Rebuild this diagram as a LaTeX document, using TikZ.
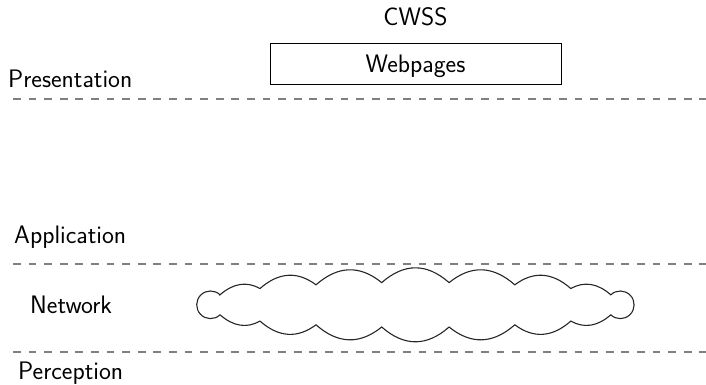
\documentclass[tikz,border=0pt]{standalone}
\begin{document}
\begin{tikzpicture}[x=1pt,y=-1pt,
  every node/.style={font=\sffamily\fontsize{25.3}{30}\selectfont, inner sep=0pt},
  layerlabel/.style={anchor=base west},
  separator/.style={draw=black!50, line width=1.4pt, dash pattern=on 7.8pt off 7.8pt},
  pagebox/.style={draw, line width=0.9pt, minimum width=291pt, minimum height=41pt},
  cloudline/.style={draw=black!85, line width=1.1pt, line join=miter}]
  \useasboundingbox (0,0) rectangle (706,384);

  % system title and its web front end
  \node[anchor=base] (title) at (415.5,25) {CWSS};
  \node[pagebox] (web) at (415.5,63.5) {};
  \node[anchor=base] (weblabel) at (415.5,72) {Webpages};

  % layer names
  \node[layerlabel] (pres) at (8,87) {Presentation};
  \node[layerlabel] (app) at (14,243) {Application};
  \node[layerlabel] (net) at (30,313) {Network};
  \node[layerlabel] (perc) at (18,379) {Perception};

  % layer boundaries
  \coordinate (s1a) at (13,99);  \coordinate (s1b) at (706,99);
  \coordinate (s2a) at (13,264); \coordinate (s2b) at (706,264);
  \coordinate (s3a) at (13,352); \coordinate (s3b) at (706,352);
  \draw[separator] (s1a) -- (s1b);
  \draw[separator] (s2a) -- (s2b);
  \draw[separator] (s3a) -- (s3b);

  % network layer: a long cloud, puffs growing towards the middle
  \begin{scope}[shift={(415.4,304.8)}]
    \draw[cloudline]
      (-195.4,-10)
      .. controls (-182.07,-21.63) and (-168.73,-23.73) .. (-155.4,-16.3)
      .. controls (-136.73,-32.67) and (-118.07,-33.9) .. (-99.4,-20)
      .. controls (-77.5,-39.27) and (-55.6,-40) .. (-33.7,-22.2)
      .. controls (-11.23,-41.93) and (11.23,-41.93) .. (33.7,-22.2)
      .. controls (55.6,-40) and (77.5,-39.27) .. (99.4,-20)
      .. controls (118.07,-33.9) and (136.73,-32.67) .. (155.4,-16.3)
      .. controls (168.73,-23.73) and (182.07,-21.63) .. (195.4,-10)
      arc[start angle=-133.5, end angle=133.5, radius=13.8]
      .. controls (182.07,21.63) and (168.73,23.73) .. (155.4,16.3)
      .. controls (136.73,32.67) and (118.07,33.9) .. (99.4,20)
      .. controls (77.5,39.27) and (55.6,40) .. (33.7,22.2)
      .. controls (11.23,41.93) and (-11.23,41.93) .. (-33.7,22.2)
      .. controls (-55.6,40) and (-77.5,39.27) .. (-99.4,20)
      .. controls (-118.07,33.9) and (-136.73,32.67) .. (-155.4,16.3)
      .. controls (-168.73,23.73) and (-182.07,21.63) .. (-195.4,10)
      arc[start angle=46.5, end angle=313.5, radius=13.8]
      -- cycle;
    \coordinate (cloud) at (0,0);
  \end{scope}
\end{tikzpicture}
\end{document}
